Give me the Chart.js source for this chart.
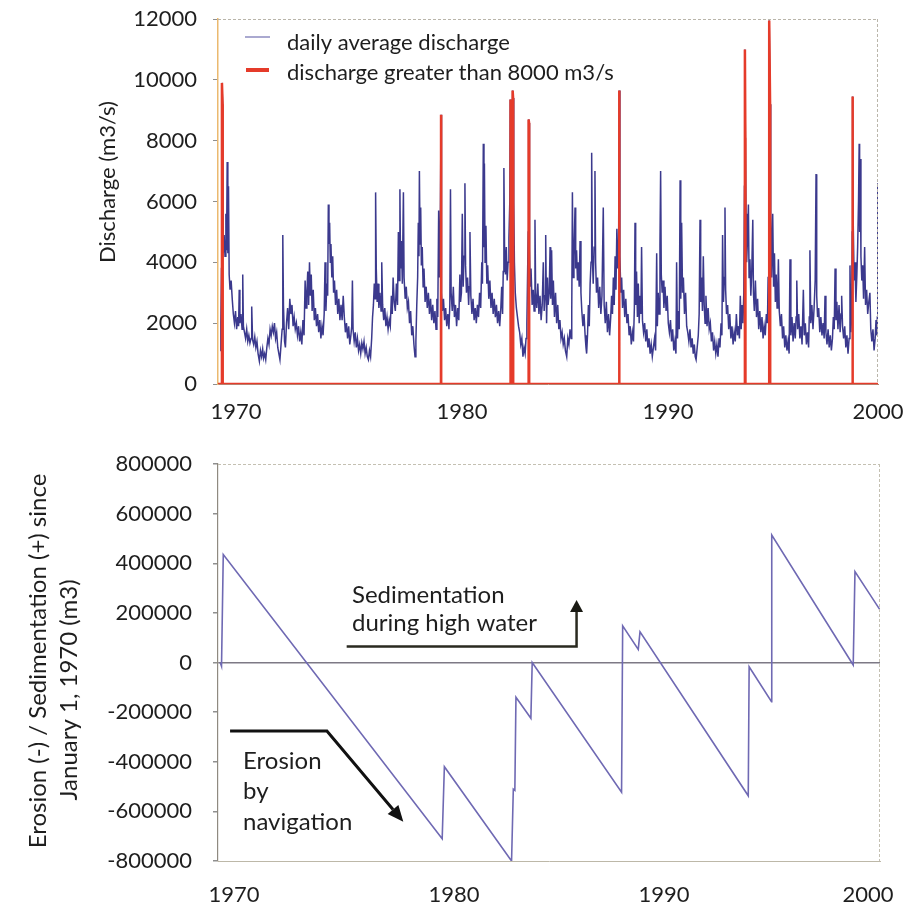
<!DOCTYPE html>
<html>
<head>
<meta charset="utf-8">
<title>Discharge and bed level change 1970-2000</title>
<script src="https://cdn.jsdelivr.net/npm/chart.js@4.4.1/dist/chart.umd.min.js"></script>
<style>
  html, body { margin: 0; padding: 0; background: #fff; }
  #wrap { position: relative; width: 904px; height: 910px; }
  #top { position: absolute; left: 0; top: 0; }
  #bottom { position: absolute; left: 0; top: 440px; }
</style>
</head>
<body>
<div id="wrap">
  <canvas id="top" width="904" height="440"></canvas>
  <canvas id="bottom" width="904" height="470"></canvas>
</div>
<script>
// year labels under each panel and the axis value where each one sits
const yearLabels = ["1970", "1980", "1990", "2000"];
const topLabelYears = [1970.72, 1981.05, 1990.46, 2000.05];
const bottomLabelYears = [1970.63, 1980.65, 1990.21, 1999.5];

// daily average discharge (m3/s), [decimal year, value]
const dailyDischarge = [
  [1970.00,1100],[1970.03,2000],[1970.06,3800],[1970.08,9900],[1970.11,9200],[1970.14,4300],[1970.18,4900],[1970.22,4200],[1970.26,5600],[1970.29,4400],[1970.32,7300],[1970.35,4300],[1970.38,6500],[1970.41,3600],[1970.45,3100],[1970.50,3400],[1970.55,2800],[1970.60,2300],[1970.65,2000],[1970.70,2400],[1970.75,1800],[1970.80,2200],[1970.84,1900],[1970.87,3100],[1970.90,2000],[1970.95,2300],
  [1971.00,1800],[1971.03,3600],[1971.06,1900],[1971.11,1700],[1971.16,1500],[1971.21,1800],[1971.26,1400],[1971.31,1600],[1971.36,1350],[1971.41,1500],[1971.44,2550],[1971.48,1450],[1971.53,1300],[1971.58,1550],[1971.63,1200],[1971.68,1400],[1971.73,1000],[1971.79,750],[1971.84,1100],[1971.89,900],[1971.94,1150],[1971.98,850],
  [1972.03,1000],[1972.08,800],[1972.13,1200],[1972.18,1500],[1972.23,1300],[1972.28,1800],[1972.33,1600],[1972.38,1900],[1972.43,1700],[1972.48,2000],[1972.53,1500],[1972.58,1700],[1972.63,1200],[1972.68,1000],[1972.73,800],[1972.78,1300],[1972.83,1800],[1972.86,4900],[1972.89,2600],[1972.94,1400],[1972.98,1200],
  [1973.03,2000],[1973.08,2500],[1973.13,1800],[1973.18,2800],[1973.23,2300],[1973.28,2600],[1973.33,1900],[1973.38,2200],[1973.43,1800],[1973.48,2000],[1973.53,1600],[1973.58,1900],[1973.63,1400],[1973.68,1700],[1973.73,1300],[1973.78,2100],[1973.83,1600],[1973.88,3400],[1973.92,2500],[1973.96,3000],
  [1974.00,3700],[1974.04,2600],[1974.08,4000],[1974.12,2900],[1974.16,3600],[1974.20,2400],[1974.25,3100],[1974.30,2100],[1974.35,2500],[1974.40,1900],[1974.45,2300],[1974.50,1700],[1974.55,2100],[1974.60,1500],[1974.65,1900],[1974.70,1600],[1974.75,2300],[1974.79,4000],[1974.83,2400],[1974.87,3300],[1974.91,2900],[1974.94,5900],[1974.97,4600],
  [1975.00,5300],[1975.03,4000],[1975.06,4600],[1975.10,3500],[1975.14,4200],[1975.18,3000],[1975.22,3400],[1975.27,2600],[1975.32,3100],[1975.37,2300],[1975.42,2800],[1975.47,2100],[1975.52,2600],[1975.57,2100],[1975.62,2900],[1975.67,2200],[1975.72,1700],[1975.77,2000],[1975.82,1500],[1975.87,1900],[1975.92,1300],[1975.97,1600],
  [1976.01,1900],[1976.04,3400],[1976.07,1800],[1976.12,1400],[1976.17,1700],[1976.22,1200],[1976.27,1500],[1976.32,1100],[1976.37,1300],[1976.42,1000],[1976.47,1350],[1976.52,1150],[1976.57,1400],[1976.62,1000],[1976.67,1200],[1976.72,900],[1976.77,800],[1976.82,1100],[1976.87,900],[1976.92,1500],[1976.96,2200],
  [1977.00,2600],[1977.04,3300],[1977.08,2800],[1977.10,6300],[1977.13,3800],[1977.17,2700],[1977.21,3300],[1977.25,2500],[1977.30,3000],[1977.35,2400],[1977.38,4000],[1977.42,2600],[1977.47,2100],[1977.52,2500],[1977.57,1900],[1977.62,2200],[1977.67,1800],[1977.72,2100],[1977.77,1900],[1977.82,2900],[1977.86,2300],[1977.90,3500],[1977.95,2700],
  [1978.00,2400],[1978.05,3300],[1978.10,2600],[1978.14,5000],[1978.17,3400],[1978.21,6400],[1978.24,3800],[1978.28,4700],[1978.32,3300],[1978.37,6300],[1978.40,3500],[1978.45,2800],[1978.50,3200],[1978.55,2500],[1978.60,2700],[1978.65,2000],[1978.70,2400],[1978.75,1600],[1978.80,1900],[1978.85,1300],[1978.90,900],[1978.94,1400],[1978.98,2600],
  [1979.02,3500],[1979.05,5300],[1979.08,4200],[1979.10,7000],[1979.13,4600],[1979.16,5800],[1979.19,3900],[1979.23,4500],[1979.27,3200],[1979.31,3800],[1979.36,2700],[1979.41,3200],[1979.46,2500],[1979.51,3000],[1979.56,2300],[1979.61,2800],[1979.66,2100],[1979.71,2600],[1979.76,2000],[1979.81,2400],[1979.86,1800],[1979.90,2800],[1979.94,2200],[1979.98,5700],
  [1980.02,3500],[1980.05,4800],[1980.09,8850],[1980.11,3000],[1980.15,2400],[1980.20,2800],[1980.25,2100],[1980.30,2500],[1980.35,1900],[1980.40,2300],[1980.45,1800],[1980.49,2600],[1980.52,6400],[1980.55,3000],[1980.60,2400],[1980.65,3200],[1980.70,2200],[1980.75,2600],[1980.80,1900],[1980.85,2500],[1980.90,2100],[1980.95,3600],[1980.98,2700],
  [1981.02,3000],[1981.06,5600],[1981.10,3200],[1981.14,4200],[1981.18,6600],[1981.21,3900],[1981.25,3000],[1981.30,3500],[1981.35,2600],[1981.38,3200],[1981.41,5000],[1981.45,2900],[1981.50,2300],[1981.55,2800],[1981.60,2100],[1981.65,2500],[1981.70,2000],[1981.75,2600],[1981.80,2200],[1981.85,3000],[1981.90,2500],[1981.95,4000],[1981.98,3300],
  [1982.02,7900],[1982.05,4500],[1982.07,7250],[1982.10,4000],[1982.14,5200],[1982.18,3300],[1982.22,3900],[1982.27,2800],[1982.32,3400],[1982.37,2500],[1982.42,3000],[1982.47,2300],[1982.52,2800],[1982.57,2200],[1982.62,2600],[1982.67,2000],[1982.72,2400],[1982.77,1900],[1982.82,2500],[1982.86,3200],[1982.90,2300],[1982.93,3700],[1982.96,7100],[1982.99,4500],
  [1983.03,3600],[1983.07,4500],[1983.11,3400],[1983.15,4000],[1983.19,4800],[1983.23,6000],[1983.25,9350],[1983.28,6500],[1983.30,8700],[1983.33,6000],[1983.36,9650],[1983.38,9400],[1983.41,6000],[1983.44,4000],[1983.48,3000],[1983.53,2500],[1983.58,2200],[1983.63,1900],[1983.68,1700],[1983.73,1300],[1983.78,1500],[1983.83,900],[1983.88,1200],[1983.93,1000],[1983.97,1500],
  [1984.01,2000],[1984.04,3500],[1984.07,5000],[1984.09,8700],[1984.11,8580],[1984.13,4500],[1984.16,3200],[1984.20,3800],[1984.25,2600],[1984.30,3100],[1984.34,2400],[1984.38,5400],[1984.41,3000],[1984.46,2500],[1984.51,3300],[1984.56,2300],[1984.61,2900],[1984.66,2100],[1984.71,2600],[1984.76,4000],[1984.80,2400],[1984.84,2900],[1984.87,4900],[1984.91,2000],[1984.95,3500],[1984.98,2600],
  [1985.03,3000],[1985.07,4500],[1985.10,2800],[1985.14,4400],[1985.18,2600],[1985.22,3400],[1985.27,2200],[1985.32,3000],[1985.37,2000],[1985.42,2600],[1985.47,1800],[1985.52,2100],[1985.57,1500],[1985.62,1700],[1985.67,1300],[1985.72,1500],[1985.77,1100],[1985.83,900],[1985.88,1500],[1985.93,1300],[1985.98,1800],
  [1986.03,1500],[1986.06,2400],[1986.09,6300],[1986.12,3500],[1986.16,4200],[1986.21,5800],[1986.24,3800],[1986.28,4400],[1986.32,3400],[1986.36,4000],[1986.40,3200],[1986.44,4700],[1986.48,3000],[1986.52,2400],[1986.57,1900],[1986.62,2300],[1986.67,1600],[1986.71,1200],[1986.74,1000],[1986.78,1600],[1986.82,2600],[1986.86,1900],[1986.90,3300],[1986.94,4000],[1986.97,7600],
  [1987.00,4200],[1987.04,3300],[1987.08,4500],[1987.12,7000],[1987.15,4000],[1987.19,3000],[1987.24,3500],[1987.29,2500],[1987.34,3200],[1987.39,2300],[1987.44,2900],[1987.50,5800],[1987.54,2600],[1987.59,2000],[1987.64,2700],[1987.69,1700],[1987.74,2300],[1987.79,1600],[1987.84,2200],[1987.88,2900],[1987.92,2300],[1987.96,3500],
  [1988.00,2600],[1988.04,4200],[1988.08,3100],[1988.12,5100],[1988.16,3800],[1988.20,4500],[1988.23,9650],[1988.26,4200],[1988.30,3000],[1988.34,3500],[1988.38,2500],[1988.43,3100],[1988.48,2200],[1988.53,2800],[1988.58,2000],[1988.63,2300],[1988.68,1600],[1988.73,1900],[1988.78,1300],[1988.83,1700],[1988.88,1400],[1988.92,2500],[1988.95,5300],[1988.98,2600],
  [1989.02,3700],[1989.06,2200],[1989.10,3300],[1989.14,2000],[1989.18,2900],[1989.22,2300],[1989.25,4500],[1989.29,2100],[1989.34,1700],[1989.39,2000],[1989.44,1400],[1989.49,1800],[1989.54,1200],[1989.59,1500],[1989.64,1000],[1989.69,1300],[1989.74,900],[1989.79,1200],[1989.84,1500],[1989.89,1100],[1989.94,4300],[1989.97,1900],
  [1990.01,3000],[1990.05,2300],[1990.09,4600],[1990.12,7000],[1990.15,3600],[1990.19,3000],[1990.23,3400],[1990.27,2500],[1990.32,3200],[1990.37,2400],[1990.42,2900],[1990.47,2000],[1990.52,1700],[1990.57,2100],[1990.62,1400],[1990.67,1800],[1990.72,1100],[1990.77,1400],[1990.82,1000],[1990.85,4000],[1990.89,1500],[1990.93,2400],[1990.97,1800],
  [1991.01,6700],[1991.04,2800],[1991.08,5300],[1991.12,3000],[1991.16,3500],[1991.21,2300],[1991.26,3000],[1991.31,1900],[1991.36,1700],[1991.41,1400],[1991.46,1800],[1991.51,1200],[1991.56,1500],[1991.61,1000],[1991.66,1300],[1991.70,900],[1991.74,800],[1991.79,1200],[1991.84,1600],[1991.88,2300],[1991.92,5400],[1991.95,2700],[1991.99,3500],
  [1992.03,2400],[1992.07,4200],[1992.11,2600],[1992.15,2000],[1992.19,2900],[1992.24,1900],[1992.29,2500],[1992.34,1800],[1992.39,2000],[1992.44,1400],[1992.49,1700],[1992.54,1100],[1992.59,1400],[1992.64,1000],[1992.69,1300],[1992.74,900],[1992.79,1500],[1992.83,1200],[1992.88,2000],[1992.92,1600],[1992.95,4900],[1992.99,2700],
  [1993.03,3500],[1993.06,5800],[1993.09,3100],[1993.13,2300],[1993.18,2600],[1993.23,1800],[1993.28,2300],[1993.33,1500],[1993.38,1900],[1993.43,1300],[1993.48,1700],[1993.53,1400],[1993.58,2300],[1993.63,1600],[1993.68,1900],[1993.72,1500],[1993.76,2900],[1993.80,1800],[1993.84,2600],[1993.88,2000],[1993.92,3000],[1993.95,6500],[1993.97,11000],[1993.99,8100],
  [1994.02,5600],[1994.05,4000],[1994.09,4800],[1994.13,5900],[1994.16,3500],[1994.20,4100],[1994.24,2900],[1994.28,3600],[1994.33,5400],[1994.36,3000],[1994.40,2400],[1994.45,3400],[1994.50,2200],[1994.55,2800],[1994.60,1800],[1994.65,2400],[1994.70,1700],[1994.75,2200],[1994.80,1500],[1994.85,1900],[1994.90,1600],[1994.95,2300],
  [1995.00,2000],[1995.03,3500],[1995.06,6500],[1995.08,11950],[1995.12,9200],[1995.15,5600],[1995.19,3500],[1995.24,5600],[1995.28,3200],[1995.32,4300],[1995.36,2700],[1995.40,3600],[1995.44,2500],[1995.47,3000],[1995.50,4100],[1995.54,2400],[1995.59,1900],[1995.64,2300],[1995.69,1500],[1995.74,1900],[1995.79,1200],[1995.84,1600],[1995.89,1100],[1995.94,1400],[1995.99,1000],
  [1996.03,4100],[1996.07,1600],[1996.12,2200],[1996.17,1400],[1996.22,2000],[1996.27,1500],[1996.31,2200],[1996.34,3400],[1996.38,1800],[1996.43,2300],[1996.48,1500],[1996.53,1900],[1996.58,1300],[1996.64,3100],[1996.68,1600],[1996.73,2000],[1996.78,1300],[1996.83,1700],[1996.88,1200],[1996.91,2200],[1996.94,4400],[1996.98,2000],
  [1997.03,2600],[1997.08,1800],[1997.13,2500],[1997.18,3400],[1997.22,6900],[1997.25,2900],[1997.29,2200],[1997.34,2500],[1997.39,1700],[1997.44,2200],[1997.49,1600],[1997.54,2000],[1997.59,1500],[1997.63,2900],[1997.67,1700],[1997.72,1300],[1997.77,1800],[1997.82,1200],[1997.87,1600],[1997.92,1100],[1997.97,1500],
  [1998.01,2200],[1998.05,1800],[1998.09,3800],[1998.13,2100],[1998.17,2700],[1998.22,1800],[1998.27,2600],[1998.32,1700],[1998.36,2300],[1998.39,2900],[1998.43,1900],[1998.48,1500],[1998.53,1900],[1998.58,1200],[1998.63,1600],[1998.68,1000],[1998.73,1500],[1998.77,3900],[1998.81,1700],[1998.85,2300],[1998.87,5000],[1998.89,9450],
  [1998.92,5200],[1998.96,3400],[1999.00,4000],[1999.04,2700],[1999.08,3500],[1999.12,4500],[1999.16,6000],[1999.19,7900],[1999.21,5000],[1999.24,7400],[1999.27,4200],[1999.31,3400],[1999.35,3900],[1999.39,2800],[1999.44,4500],[1999.48,2600],[1999.53,3100],[1999.58,2300],[1999.63,2700],[1999.68,3000],[1999.72,1800],[1999.77,1400],[1999.82,1800],[1999.87,1100],[1999.92,1500],[1999.96,2100],
  [2000.00,1600],[2000.02,2200],[2000.04,6600],[2000.05,2400]
];

// days with discharge above 8000 m3/s, zero otherwise
const highDischarge = [
  [1969.90,0],[1970.075,0],[1970.08,9900],[1970.11,9200],[1970.115,0],
  [1980.085,0],[1980.09,8850],[1980.095,0],
  [1983.245,0],[1983.25,9350],[1983.28,0],[1983.30,8700],[1983.33,0],[1983.36,9650],[1983.38,9400],[1983.385,0],
  [1984.085,0],[1984.09,8700],[1984.11,8580],[1984.115,0],
  [1988.225,0],[1988.23,9650],[1988.235,0],
  [1993.965,0],[1993.97,11000],[1993.99,8100],[1993.995,0],
  [1995.075,0],[1995.08,11950],[1995.12,9200],[1995.125,0],
  [1998.885,0],[1998.89,9450],[1998.895,0],
  [2000.05,0]
];

// cumulative erosion (-) / sedimentation (+) since 1 Jan 1970, m3
const bedVolume = [
  [1970.00,0],[1970.06,-15000],[1970.14,435000],[1980.11,-710000],[1980.21,-420000],
  [1983.27,-800000],[1983.35,-510000],[1983.42,-515000],[1983.47,-140000],[1984.15,-225000],
  [1984.21,0],[1988.28,-523000],[1988.33,148000],[1989.04,53000],[1989.12,124000],
  [1994.05,-537000],[1994.09,-17000],[1995.11,-158000],[1995.12,514000],[1998.83,-10000],
  [1998.91,366000],[2000.05,212000]
];

Chart.defaults.font.family = "Lato, 'Open Sans', sans-serif";
Chart.defaults.color = "#1e1e1e";

const TEXT = "#1e1e1e";
const RED = "#e53b2a";
const NAVY = "#3b398d";

function dashedFrame(chart, color) {
  const { ctx, chartArea: a } = chart;
  ctx.save();
  ctx.strokeStyle = color;
  ctx.lineWidth = 1;
  ctx.setLineDash([3, 2]);
  ctx.beginPath();
  ctx.moveTo(a.left, a.top + 0.5);
  ctx.lineTo(a.right, a.top + 0.5);
  ctx.moveTo(a.right - 0.5, a.top);
  ctx.lineTo(a.right - 0.5, a.bottom);
  ctx.stroke();
  ctx.restore();
}

function verticalText(ctx, text, x, y) {
  ctx.save();
  ctx.translate(x, y);
  ctx.rotate(-Math.PI / 2);
  ctx.textAlign = "center";
  ctx.textBaseline = "middle";
  ctx.fillText(text, 0, 0);
  ctx.restore();
}

// filled triangle with its point at (tx, ty), aimed along from -> to
function arrowHead(ctx, fx, fy, tx, ty, len, half) {
  const a = Math.atan2(ty - fy, tx - fx);
  const bx = tx - len * Math.cos(a);
  const by = ty - len * Math.sin(a);
  ctx.beginPath();
  ctx.moveTo(tx, ty);
  ctx.lineTo(bx + half * Math.sin(a), by - half * Math.cos(a));
  ctx.lineTo(bx - half * Math.sin(a), by + half * Math.cos(a));
  ctx.closePath();
  ctx.fill();
  return [bx, by];
}

const topDecor = {
  id: "topDecor",
  afterDraw(chart) {
    const { ctx } = chart;
    dashedFrame(chart, "#b9b5aa");

    ctx.save();
    // legend
    ctx.strokeStyle = "#8e8cc0";
    ctx.lineWidth = 1.5;
    ctx.beginPath();
    ctx.moveTo(245, 37);
    ctx.lineTo(270, 37);
    ctx.stroke();
    ctx.strokeStyle = RED;
    ctx.lineWidth = 4;
    ctx.beginPath();
    ctx.moveTo(246, 70);
    ctx.lineTo(269, 70);
    ctx.stroke();
    ctx.fillStyle = TEXT;
    ctx.font = "22px Lato";
    ctx.textBaseline = "alphabetic";
    ctx.fillText("daily average discharge", 287, 50);
    ctx.fillText("discharge greater than 8000 m3/s", 287, 80);

    verticalText(ctx, "Discharge (m3/s)", 108, 182);
    ctx.restore();
  }
};

const bottomDecor = {
  id: "bottomDecor",
  afterDraw(chart) {
    const { ctx, scales: { x, y } } = chart;
    const px = (v) => x.getPixelForValue(v);
    const py = (v) => y.getPixelForValue(v);
    dashedFrame(chart, "#c4c0b2");

    ctx.save();
    ctx.fillStyle = TEXT;
    ctx.font = "24px Lato";
    verticalText(ctx, "Erosion (-) / Sedimentation (+) since", 38, 221);
    verticalText(ctx, "January 1, 1970 (m3)", 69, 250);

    ctx.textBaseline = "alphabetic";
    ctx.textAlign = "left";
    ctx.fillText("Sedimentation", px(1976.0), py(240000));
    ctx.fillText("during high water", px(1976.0), py(127000));
    ctx.fillText("Erosion", px(1971.04), py(-430000));
    ctx.fillText("by", px(1971.04), py(-551000));
    ctx.fillText("navigation", px(1971.04), py(-675000));

    // sedimentation pointer: along the line, then up
    ctx.fillStyle = "#1a1a14";
    ctx.strokeStyle = "#2a2a20";
    ctx.lineWidth = 2.5;
    const sx0 = px(1975.76), sx1 = px(1986.23), sy = py(64500), sTip = py(252000);
    const sBase = arrowHead(ctx, sx1, sy, sx1, sTip, 12, 6.5);
    ctx.beginPath();
    ctx.moveTo(sx0, sy);
    ctx.lineTo(sx1, sy);
    ctx.lineTo(sBase[0], sBase[1]);
    ctx.stroke();

    // erosion pointer: along, then diagonally down
    ctx.fillStyle = "#111";
    ctx.strokeStyle = "#111";
    ctx.lineWidth = 3;
    const ex0 = px(1970.45), ex1 = px(1974.86), ey = py(-276000);
    const etx = px(1978.34), ety = py(-642000);
    const eBase = arrowHead(ctx, ex1, ey, etx, ety, 16, 7);
    ctx.beginPath();
    ctx.moveTo(ex0, ey);
    ctx.lineTo(ex1, ey);
    ctx.lineTo(eBase[0], eBase[1]);
    ctx.stroke();
    ctx.restore();
  }
};

function yearAxis(labelYears, height, pad, border) {
  return {
    type: "linear",
    min: 1969.9,
    max: 2000.05,
    grid: { display: false, drawTicks: false },
    border: border,
    afterBuildTicks: (s) => { s.ticks = labelYears.map((v) => ({ value: v })); },
    afterFit: (s) => {
      s.height = height;
      // labels may run past the plot edge; keep the plot area fixed
      s.paddingLeft = 0;
      s.paddingRight = 0;
    },
    ticks: {
      autoSkip: false,
      maxRotation: 0,
      padding: pad,
      color: TEXT,
      font: { size: 22 },
      callback: (v, i) => yearLabels[i]
    }
  };
}

function valueAxisFit(s) {
  s.width = 218;
  s.paddingTop = 0;
  s.paddingBottom = 0;
}

new Chart(document.getElementById("top"), {
  type: "line",
  data: {
    datasets: [
      {
        label: "discharge greater than 8000 m3/s",
        data: highDischarge,
        borderColor: RED,
        borderWidth: 2.5,
        pointRadius: 0
      },
      {
        label: "daily average discharge",
        data: dailyDischarge,
        borderColor: NAVY,
        borderWidth: 1.5,
        pointRadius: 0
      }
    ]
  },
  options: {
    responsive: false,
    animation: false,
    events: [],
    layout: { padding: { top: 19, right: 26, left: 0, bottom: 0 } },
    plugins: { legend: { display: false }, tooltip: { enabled: false } },
    elements: { line: { tension: 0 } },
    scales: {
      x: yearAxis(topLabelYears, 56, 15, { color: "#b9806e", width: 1 }),
      y: {
        min: 0,
        max: 12000,
        afterFit: valueAxisFit,
        grid: { drawOnChartArea: false, tickLength: 5, color: "#8f8f8f" },
        border: { color: "#ebb96f", width: 1.5 },
        ticks: {
          stepSize: 2000,
          padding: 16,
          color: TEXT,
          font: { size: 22 },
          callback: (v) => String(v)
        }
      }
    }
  },
  plugins: [topDecor]
});

new Chart(document.getElementById("bottom"), {
  type: "line",
  data: {
    datasets: [
      {
        label: "erosion / sedimentation",
        data: bedVolume,
        borderColor: "#6f69b3",
        borderWidth: 1.6,
        pointRadius: 0
      }
    ]
  },
  options: {
    responsive: false,
    animation: false,
    events: [],
    layout: { padding: { top: 24, right: 24, left: 0, bottom: 0 } },
    plugins: { legend: { display: false }, tooltip: { enabled: false } },
    elements: { line: { tension: 0 } },
    scales: {
      x: yearAxis(bottomLabelYears, 49, 21, { color: "#bdb8a8", width: 1, dash: [3, 2] }),
      y: {
        min: -800000,
        max: 800000,
        afterFit: valueAxisFit,
        grid: {
          tickLength: 5,
          lineWidth: 1.5,
          color: (c) => (c.tick && c.tick.value === 0 ? "#7d7985" : "rgba(0,0,0,0)"),
          tickColor: "#8f8f8f"
        },
        border: { color: "#8f8a80", width: 1.2 },
        ticks: {
          stepSize: 200000,
          padding: 21,
          color: TEXT,
          font: { size: 22 },
          callback: (v) => String(v)
        }
      }
    }
  },
  plugins: [bottomDecor]
});
</script>
</body>
</html>
